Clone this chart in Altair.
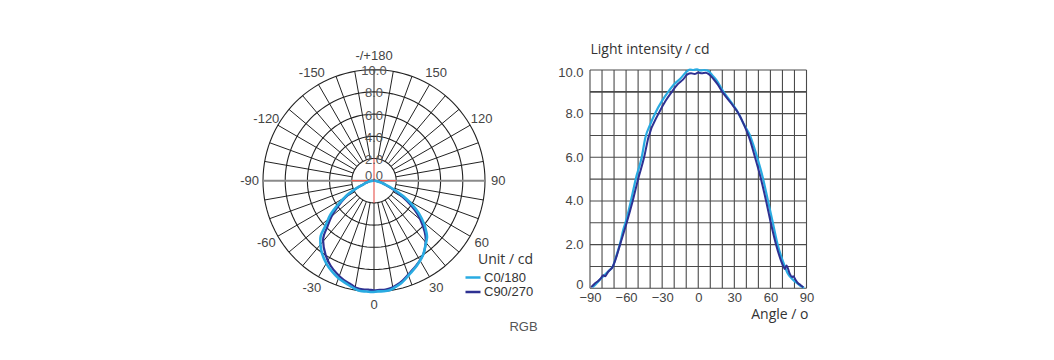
import altair as alt
import numpy as np
import pandas as pd

# ---------------- data ----------------
series_names = ["C0/180", "C90/270"]
series_colors = ["#29abe2", "#2e3192"]

c0_angle = [-88, -85, -82, -78, -74, -71, -68, -65, -62.5, -60, -56, -52, -47, -44, -40, -36,
            -30, -25, -20, -15, -10, -7, -4, -1, 2, 5, 8, 11, 15, 21, 27, 33.6, 38, 43, 45,
            49, 54, 58, 62, 66, 72, 74, 79, 83, 86, 88]
c0_value = [0.05, 0.2, 0.38, 0.6, 0.82, 1.0, 1.5, 2.05, 2.65, 3.1, 4.0, 5.0, 6.0, 6.9, 7.5, 8.0,
            8.6, 9.0, 9.35, 9.6, 9.9, 10.02, 10.0, 10.03, 9.98, 10.0, 9.97, 9.8, 9.55, 9.0, 8.55, 8.0, 7.5, 7.0, 6.7,
            6.0, 5.0, 4.0, 3.0, 2.0, 1.0, 0.72, 0.38, 0.2, 0.08, 0.02]

c90_angle = [-89, -86, -84, -81, -79, -77.5, -75, -71, -68, -65, -59.5, -54.5, -50, -45, -41.5,
             -33, -27, -22, -17, -12.5, -9, -6, -3, 0, 3, 6, 9, 12.5, 16, 20, 27, 33.6, 38, 43,
             47.2, 52.2, 56.4, 60.3, 64.7, 70.8, 72, 73.3, 76, 78, 79, 81, 83, 85, 87.3]
c90_value = [0.05, 0.22, 0.3, 0.45, 0.6, 0.55, 0.75, 1.0, 1.45, 2.0, 3.0, 4.0, 5.0, 6.0, 6.9,
             8.0, 8.6, 9.0, 9.35, 9.57, 9.8, 9.85, 9.82, 9.88, 9.85, 9.87, 9.8, 9.6, 9.35, 9.0, 8.5, 8.0, 7.5, 6.8,
             6.0, 5.0, 4.0, 3.0, 2.0, 1.0, 0.88, 1.05, 0.68, 0.52, 0.55, 0.38, 0.23, 0.15, 0.05]

ring_values = [2, 4, 6, 8, 10]
ring_labels = ["2.0", "4.0", "6.0", "8.0", "10.0"]
center_label = ["0.0"]
spoke_angles = [a for a in range(-170, 181, 10) if abs(a) != 90]
polar_label_angles = [-150, -120, -90, -60, -30, 0, 30, 60, 90, 120, 150, 180]
polar_label_texts = ["-150", "-120", "-90", "-60", "-30", "0", "30", "60", "90", "120", "150", "-/+180"]

x_ticks = [-90, -60, -30, 0, 30, 60, 90]
y_ticks = [0, 2, 4, 6, 8, 10]
y_tick_labels = ["0", "2.0", "4.0", "6.0", "8.0", "10.0"]
x_grid = list(range(-90, 91, 10))
y_grid = list(range(0, 11))
y_grid_bold = [9]

# ---------------- tables ----------------
curves = pd.DataFrame({
    "angle": c0_angle + c90_angle,
    "value": c0_value + c90_value,
    "series": [series_names[0]] * len(c0_angle) + [series_names[1]] * len(c90_angle),
})

t = np.arange(0, 361, 3)
rings = pd.concat([pd.DataFrame({"ring": r, "t": t,
                                 "x": r * np.sin(np.radians(t)),
                                 "y": r * np.cos(np.radians(t))}) for r in ring_values])

inner, outer = ring_values[0], ring_values[-1]
sa = np.radians(spoke_angles)
spokes = pd.DataFrame({"x1": inner * np.sin(sa), "y1": -inner * np.cos(sa),
                       "x2": outer * np.sin(sa), "y2": -outer * np.cos(sa)})
hline = pd.DataFrame({"x1": [-outer], "x2": [outer], "y1": [0], "y2": [0]})
redcross = pd.DataFrame({"x1": [-inner, 0], "x2": [inner, 0], "y1": [0, -inner], "y2": [0, inner]})
ringlab = pd.DataFrame({"y": ring_values, "label": ring_labels, "x": 0})
centerlab = pd.DataFrame({"y": [0], "x": [0], "label": center_label})
LR = 11.2
la = np.radians(polar_label_angles)
anglab = pd.DataFrame({"x": LR * np.sin(la), "y": -LR * np.cos(la), "label": polar_label_texts})

vgrid = pd.DataFrame({"gx": x_grid, "ylo": y_grid[0], "yhi": y_grid[-1]})
hgrid = pd.DataFrame({"gy": y_grid, "xlo": x_grid[0], "xhi": x_grid[-1],
                      "bold": [g in y_grid_bold for g in y_grid]})

# ---------------- scales ----------------
PX = alt.Scale(domain=[-10, 10], range=[255, 477], nice=False, zero=False)
PY = alt.Scale(domain=[-10, 10], range=[283.7, 61.7], nice=False, zero=False)
CX = alt.Scale(domain=[-90, 90], range=[582, 798.5], nice=False, zero=False)
CY = alt.Scale(domain=[0, 10], range=[280.3, 62], nice=False, zero=False)
COLOR = alt.Scale(domain=series_names, range=series_colors)

LABEL_FONT = "Liberation Sans"
TITLE_FONT = "Open Sans"

LEG = alt.Legend(title="Unit / cd", orient="none", legendX=456, legendY=245,
                 symbolType="stroke", symbolSize=225, symbolStrokeWidth=2.5,
                 labelFont=LABEL_FONT, labelFontSize=13, labelColor="#333", labelOffset=2,
                 titleFont=TITLE_FONT, titleFontSize=14, titleFontWeight="normal",
                 titleColor="#333", titleAnchor="end", titlePadding=4,
                 rowPadding=0.5, clipHeight=13, padding=0)

y_label_expr = " : ".join(f"datum.value === {v} ? '{l}'" for v, l in zip(y_ticks, y_tick_labels)) + " : ''"

XAXIS = alt.Axis(orient="bottom", offset=-(344 - 280.3), values=x_ticks, format="d",
                 labelFlush=False, ticks=False, tickSize=0, domain=False, grid=False,
                 labelFont=LABEL_FONT, labelFontSize=13, labelColor="#444", labelPadding=3,
                 title="Angle / o", titleFont=TITLE_FONT, titleFontSize=14,
                 titleFontWeight="normal", titleColor="#333", titleX=800, titleY=26.5,
                 titleAlign="right", titleBaseline="middle", titleAngle=0)
YAXIS = alt.Axis(orient="left", offset=-582, values=y_ticks, labelExpr=y_label_expr,
                 labelFlush=False, ticks=False, tickSize=0, domain=False, grid=False,
                 labelFont=LABEL_FONT, labelFontSize=13, labelColor="#444", labelPadding=7,
                 labelOffset={"condition": [{"test": "datum.value === 0", "value": -4},
                                            {"test": "datum.value === 10", "value": 2}],
                              "value": 0},
                 title="Light intensity / cd", titleFont=TITLE_FONT, titleFontSize=14,
                 titleFontWeight="normal", titleColor="#333", titleX=0, titleY=41.5,
                 titleAlign="left", titleBaseline="middle", titleAngle=0)


def pxy(xf, yf):
    return dict(x=alt.X(xf, scale=PX, axis=None), y=alt.Y(yf, scale=PY, axis=None))


def seg(df, color, width):
    return alt.Chart(df).mark_rule(color=color, strokeWidth=width).encode(
        x=alt.X("x1:Q", scale=PX, axis=None), x2="x2:Q",
        y=alt.Y("y1:Q", scale=PY, axis=None), y2="y2:Q")


ring_layer = alt.Chart(rings).mark_line(color="#222", strokeWidth=1.1).encode(
    order="t:Q", detail="ring:N", **pxy("x:Q", "y:Q"))
spoke_layer = seg(spokes, "#222", 1)
hline_layer = seg(hline, "#8a8a8a", 2)
red_layer = seg(redcross, "#e8605a", 1.2)
ringlab_layer = alt.Chart(ringlab).mark_text(font=LABEL_FONT, fontSize=13, color="#555",
                                             baseline="middle", dy=1.5).encode(
    text="label:N", **pxy("x:Q", "y:Q"))
centerlab_layer = alt.Chart(centerlab).mark_text(font=LABEL_FONT, fontSize=13, color="#555",
                                                 baseline="middle", dy=-5).encode(
    text="label:N", **pxy("x:Q", "y:Q"))
anglab_layer = alt.Chart(anglab).mark_text(font=LABEL_FONT, fontSize=13, color="#444",
                                           baseline="middle").encode(
    text="label:N", **pxy("x:Q", "y:Q"))


def polar_curve(name, width):
    return alt.Chart(curves).transform_filter(alt.datum.series == name).transform_calculate(
        px="datum.value*sin(datum.angle*PI/180)",
        py="-datum.value*cos(datum.angle*PI/180)",
    ).mark_line(strokeWidth=width, interpolate="catmull-rom").encode(
        order="angle:Q",
        color=alt.Color("series:N", scale=COLOR, legend=LEG),
        **pxy("px:Q", "py:Q"))


vgrid_layer = alt.Chart(vgrid).mark_rule(color="#4a4a4a", strokeWidth=1.1).encode(
    x=alt.X("gx:Q", scale=CX, axis=None),
    y=alt.Y("ylo:Q", scale=CY, axis=None), y2="yhi:Q")
hgrid_layer = alt.Chart(hgrid).mark_rule(color="#4a4a4a").encode(
    x=alt.X("xlo:Q", scale=CX, axis=None), x2="xhi:Q",
    y=alt.Y("gy:Q", scale=CY, axis=None),
    strokeWidth=alt.condition("datum.bold", alt.value(1.9), alt.value(1.1)))


def cart_curve(name, width, axes=False):
    return alt.Chart(curves).transform_filter(alt.datum.series == name).mark_line(
        strokeWidth=width, interpolate="monotone").encode(
        x=alt.X("angle:Q", scale=CX, axis=XAXIS if axes else None),
        y=alt.Y("value:Q", scale=CY, axis=YAXIS if axes else None),
        order="angle:Q",
        color=alt.Color("series:N", scale=COLOR, legend=LEG))


rgb_layer = alt.Chart(pd.DataFrame({"t": ["RGB"]})).mark_text(
    font=LABEL_FONT, fontSize=13, color="#555", baseline="middle", align="center").encode(
    text="t:N", x=alt.value(515.5), y=alt.value(319))

chart = alt.layer(
    ring_layer, spoke_layer, hline_layer, red_layer,
    polar_curve(series_names[1], 2.2), polar_curve(series_names[0], 2.6),
    ringlab_layer, centerlab_layer, anglab_layer,
    vgrid_layer, hgrid_layer,
    cart_curve(series_names[0], 2.2), cart_curve(series_names[1], 2.0, axes=True),
    rgb_layer,
).resolve_scale(x="independent", y="independent").properties(
    width=1038, height=344, padding=0,
    autosize=alt.AutoSizeParams(type="none"),
).configure_view(stroke=None)

chart.save("out.html", embed_options={"renderer": "svg", "actions": False})
